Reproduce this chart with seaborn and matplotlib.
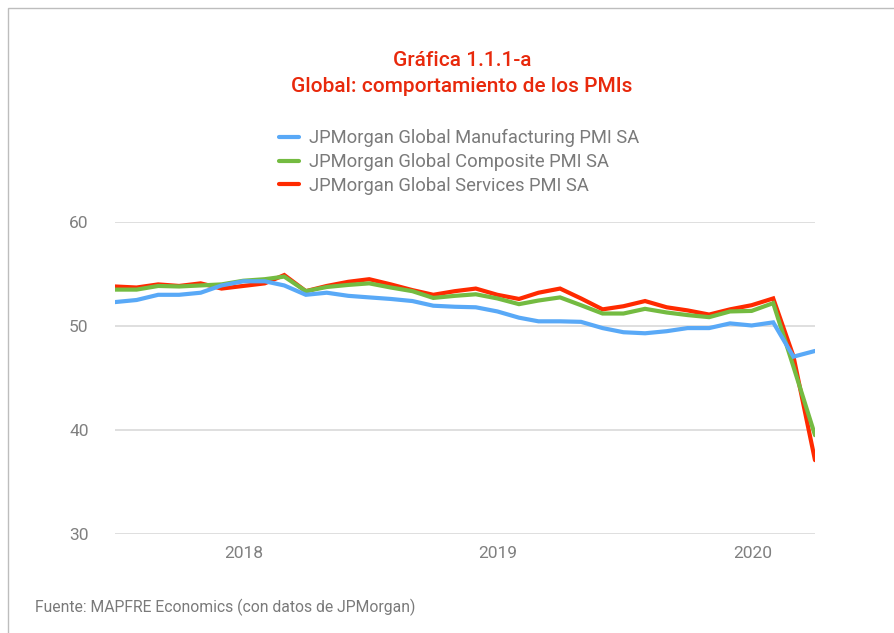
import matplotlib
matplotlib.use("Agg")
import matplotlib.pyplot as plt
import seaborn as sns
import pandas as pd
import numpy as np
from matplotlib.lines import Line2D
from matplotlib.patches import Rectangle

# ---- data ----
months = pd.date_range("2017-06-01", periods=34, freq="MS") + pd.offsets.MonthEnd(0)
manufacturing = [52.3, 52.5, 53.0, 53.0, 53.2, 53.9, 54.3,
                 54.3, 53.9, 53.0, 53.2, 52.9, 52.75, 52.6, 52.4, 51.95, 51.85, 51.8, 51.4,
                 50.8, 50.45, 50.45, 50.4, 49.8, 49.4, 49.3, 49.5, 49.8, 49.8, 50.25, 50.05,
                 50.35, 47.05, 47.6]
composite = [53.5, 53.5, 53.85, 53.8, 53.9, 54.0, 54.35,
             54.5, 54.75, 53.35, 53.75, 53.95, 54.1, 53.7, 53.35, 52.7, 52.9, 53.05, 52.65,
             52.1, 52.45, 52.75, 52.0, 51.2, 51.2, 51.65, 51.3, 51.05, 50.85, 51.4, 51.45,
             52.2, 46.1, 39.5]
services = [53.8, 53.7, 54.0, 53.85, 54.1, 53.6, 53.85,
            54.1, 54.9, 53.35, 53.85, 54.25, 54.5, 54.0, 53.45, 53.0, 53.35, 53.6, 53.0,
            52.6, 53.2, 53.6, 52.65, 51.6, 51.9, 52.4, 51.8, 51.5, 51.1, 51.6, 52.0,
            52.65, 47.1, 37.1]
series_names = ["JPMorgan Global Manufacturing PMI SA",
                "JPMorgan Global Composite PMI SA",
                "JPMorgan Global Services PMI SA"]
colors = ["#59a9f7", "#74bb41", "#ff2a00"]
y_ticks = [30, 40, 50, 60]
x_tick_dates = pd.to_datetime(["2018-01-01", "2019-01-01", "2020-01-01"])
x_tick_labels = ["2018", "2019", "2020"]

df = pd.concat([
    pd.DataFrame({"fecha": months, "valor": vals, "serie": name})
    for name, vals in zip(series_names, [manufacturing, composite, services])
])

# ---- figure ----
sns.set_theme(style="white")
plt.rcParams["font.family"] = ["Roboto", "DejaVu Sans"]

fig = plt.figure(figsize=(8.95, 6.33), dpi=100)
ax = fig.add_axes([115/895, 1-534/633, 700/895, 312/633])

sns.lineplot(data=df, x="fecha", y="valor", hue="serie", hue_order=series_names,
             palette=colors, linewidth=3.0, ax=ax, legend=False)
for line, z in zip(ax.lines, [4, 3, 2]):
    line.set_zorder(z)
    line.set_solid_joinstyle("miter")

ax.set_xlim(months[0], months[-1])
ax.set_ylim(30, 60)
ax.set_yticks(y_ticks)
ax.set_xticks(x_tick_dates)
ax.set_xticklabels(x_tick_labels)
ax.set_xlabel("")
ax.set_ylabel("")
ax.grid(axis="y", color="#d9d9d9", linewidth=1.2)
ax.grid(axis="x", visible=False)
for s in ax.spines.values():
    s.set_visible(False)
ax.tick_params(axis="both", length=0, labelsize=12.5, colors="#808080")
ax.tick_params(axis="y", pad=19)
ax.tick_params(axis="x", pad=9)

handles = [Line2D([0], [0], color=c, linewidth=3.0) for c in colors]
fig.legend(handles, series_names, loc="center", bbox_to_anchor=(459/895, 1-162/633),
           frameon=False, fontsize=13.2, handlelength=1.1, handletextpad=0.5,
           labelspacing=0.32, labelcolor="#7a7a7a")

fig.text(462/895, 1-60/633, "Gráfica 1.1.1-a", ha="center", va="center",
         fontsize=15, fontweight="medium", color="#e8290c")
fig.text(462/895, 1-86/633, "Global: comportamiento de los PMIs", ha="center", va="center",
         fontsize=15, fontweight="medium", color="#e8290c")
fig.text(35/895, 1-607/633, "Fuente: MAPFRE Economics (con datos de JPMorgan)",
         ha="left", va="center", fontsize=11.3, color="#7a7a7a")

fig.patches.append(Rectangle((8/895, -0.1), 1.2, 1 - 8/633 + 0.1, transform=fig.transFigure,
                             fill=False, edgecolor="#bdbdbd", linewidth=1))

fig.savefig("out.png", dpi=100)
